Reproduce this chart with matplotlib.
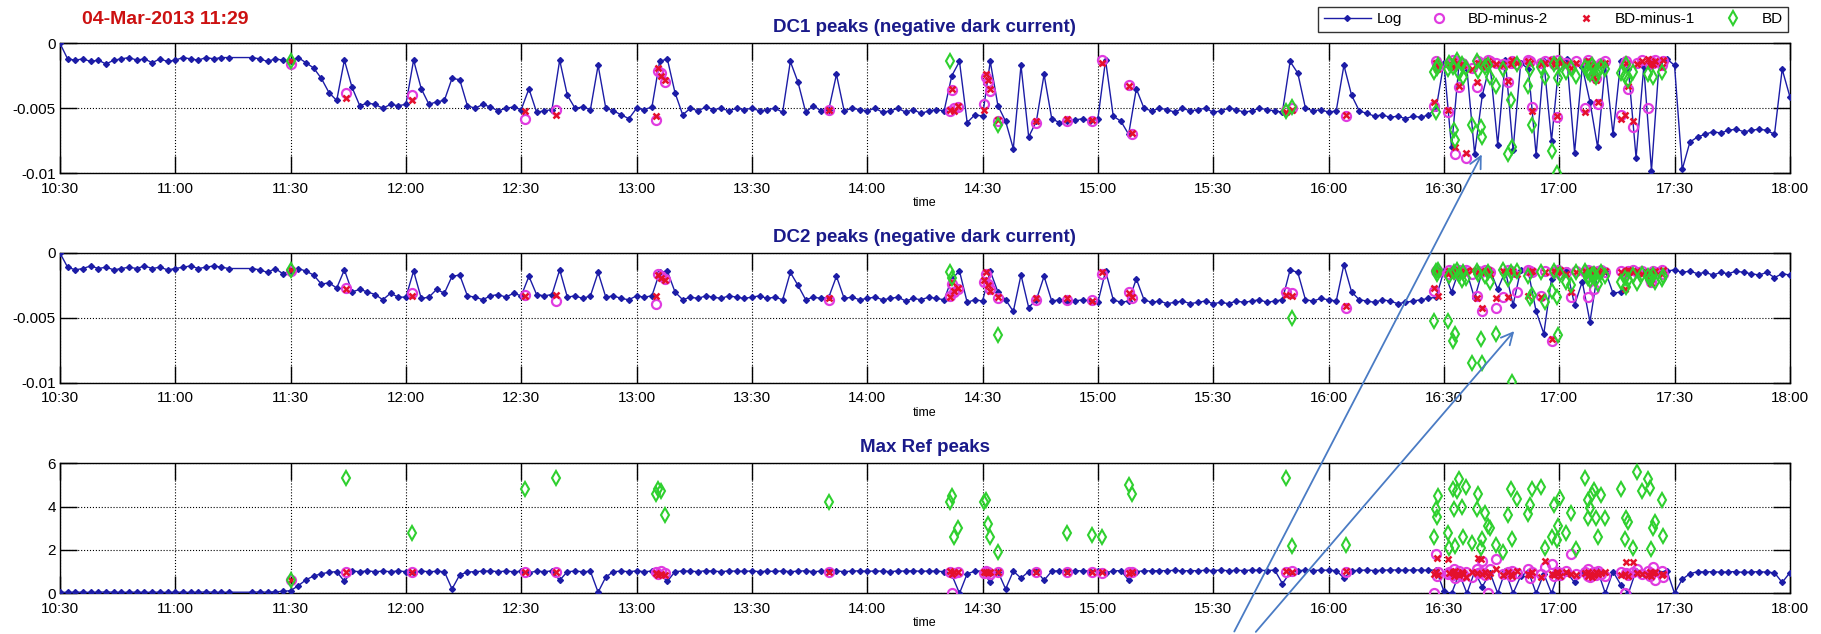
import numpy as np
import matplotlib.pyplot as plt
from matplotlib.patches import FancyArrowPatch
from matplotlib.ticker import FuncFormatter

plt.rcParams['font.family'] = ['Liberation Sans', 'DejaVu Sans']

# ---- log, sampled every 2 minutes from 10:30 (None = no sample) ----
log_step = 2  # minutes
# DC1 and DC2 in units of 1e-4
dc1_log = [0,
           -12, -13, -12, -14, -13, -16, -13, -12, -11, -13, -12, -15, -12, -14,
           -13, -11, -12, -13, -11, -12, -11, -11,
           None, None,
           -11, -12, -14, -12, -13,
           -14, -11, -15, -19, -27, -38, -44, -13, -34, -48,
           -46, -47, -50, -47, -48, -47, -13, -35, -47, -45,
           -44, -27, -28, -48, -50, -47, -49, -52, -50, -49,
           -51, -35, -53, -52, -51, -13, -40, -50, -49, -51,
           -17, -50, -52, -55, -58, -50, -51, -49, -14, -12,
           -38, -55, -50, -52, -49, -51, -50, -52, -50, -51,
           -50, -52, -51, -50, -53, -14, -30, -53, -48, -52,
           -51, -24, -52, -50, -51, -52, -50, -53, -52, -50,
           -53, -51, -54, -52, -51, -52, -25, -14, -61, -55,
           -56, -14, -48, -60, -81, -17, -72, -60, -24, -58,
           -61, -60, -59, -58, -60, -58, -13, -56, -60, -70,
           -35, -50, -52, -50, -51, -53, -50, -52, -51, -50,
           -53, -52, -50, -51, -53, -52, -50, -51, -52, -53,
           -14, -23, -50, -52, -51, -53, -52, -17, -40, -52,
           -54, -56, -55, -57, -56, -58, -56, -57, -55, -50,
           -15, -80, -14, -20, -85, -40, -16, -78, -13, -82,
           -15, -20, -86, -14, -75, -14, -12, -84, -18, -45,
           -80, -16, -70, -14, -20, -88, -18, -98, -15, -12,
           -17, -97, -76, -72, -70, -68, -69, -67, -66, -68,
           -67, -66, -67, -70, -20, -41]
dc2_log = [0,
           -11, -13, -12, -10, -12, -11, -13, -12, -11, -12, -10, -12, -11, -13,
           -12, -11, -10, -12, -11, -10, -11, -12,
           None, None,
           -12, -13, -15, -12, -16,
           -14, -12, -14, -17, -24, -23, -27, -13, -30, -28,
           -30, -32, -36, -31, -34, -34, -14, -35, -34, -28,
           -31, -18, -17, -33, -34, -36, -33, -32, -34, -31,
           -33, -18, -32, -33, -32, -13, -34, -33, -35, -33,
           -15, -34, -33, -35, -36, -33, -34, -33, -15, -14,
           -30, -36, -34, -35, -33, -34, -35, -33, -34, -35,
           -34, -33, -35, -34, -36, -15, -25, -36, -34, -35,
           -34, -18, -35, -34, -36, -35, -34, -36, -35, -34,
           -37, -35, -36, -34, -35, -36, -20, -14, -38, -36,
           -37, -14, -30, -36, -45, -17, -42, -36, -18, -37,
           -36, -38, -37, -36, -37, -38, -14, -36, -38, -37,
           -20, -36, -38, -37, -39, -38, -37, -39, -38, -37,
           -39, -38, -39, -37, -38, -37, -36, -38, -37, -36,
           -13, -15, -36, -37, -35, -36, -37, -9, -30, -36,
           -37, -38, -36, -37, -39, -38, -37, -36, -35, -34,
           -14, -30, -13, -15, -35, -14, -13, -28, -14, -40,
           -13, -15, -45, -62, -20, -14, -13, -40, -22, -53,
           -15, -14, -31, -30, -14, -13, -15, -14, -13, -14,
           -13, -15, -14, -16, -15, -17, -15, -16, -14, -15,
           -16, -17, -15, -19, -16, -17]
ref_log = [0.05, 0.04, 0.05, 0.05, 0.04, 0.05, 0.06, 0.05, 0.04, 0.05, 0.05, 0.04, 0.05, 0.05, 0.04,
           0.05, 0.05, 0.04, 0.05, 0.06, 0.05, 0.04, 0.05,
           None, None,
           0.05, 0.06, 0.05, 0.07, 0.09,
           0.12, 0.35, 0.62, 0.8, 0.9, 0.97, 1.0, 0.55, 1.02, 1.0,
           1.03, 1.0, 1.02, 1.0, 1.03, 1.0, 0.95, 1.02, 1.0, 1.01,
           1.0, 0.2, 0.85, 0.98, 1.0, 1.02, 1.03, 1.0, 1.02, 1.0,
           1.01, 0.95, 1.02, 1.0, 1.03, 0.6, 1.0, 1.02, 1.0, 1.01,
           0.05, 0.75, 1.0, 1.02, 1.0, 1.03, 1.0, 1.02, 0.9, 0.55,
           1.0, 1.03, 1.02, 1.0, 1.04, 1.02, 1.0, 1.03, 1.02, 1.01,
           1.03, 1.0, 1.02, 1.01, 1.03, 1.0, 1.02, 1.04, 1.0, 1.02,
           1.01, 1.03, 1.0, 1.02, 1.04, 1.01, 1.03, 1.02, 1.0, 1.03,
           1.02, 1.04, 1.01, 1.03, 1.02, 1.0, 0.85, 0.0, 0.9, 1.02,
           1.03, 0.5, 1.0, 0.2, 1.02, 0.7, 1.0, 1.03, 0.6, 1.02,
           1.04, 1.02, 1.05, 1.03, 1.04, 1.02, 0.95, 1.03, 1.05, 0.6,
           1.0, 1.04, 1.03, 1.05, 1.04, 1.06, 1.03, 1.05, 1.04, 1.06,
           1.05, 1.07, 1.04, 1.06, 1.05, 1.07, 1.06, 1.05, 1.07, 0.45,
           0.95, 1.05, 1.06, 1.05, 1.07, 1.06, 1.05, 0.7, 1.04, 1.06,
           1.07, 1.05, 1.06, 1.08, 1.07, 1.06, 1.08, 1.07, 1.06, 1.08,
           0.1, 0.0, 0.9, 0.0, 1.0, 0.3, 0.95, 0.0, 1.05, 0.0,
           0.8, 1.0, 0.0, 0.9, 0.0, 1.05, 0.95, 0.5, 1.0, 0.9,
           1.05, 0.0, 1.0, 0.4, 0.0, 1.05, 0.9, 1.0, 0.95, 1.05,
           0.0, 0.65, 0.9, 1.0, 0.98, 1.0, 0.97, 0.99, 1.0, 0.96,
           0.98, 1.0, 0.97, 0.95, 0.5, 0.95]

# ---- breakdown events: minutes after 10:30 ----
N = None
ev_t = [60, 74.5, 91.5, 121, 129, 155, 155.7, 156.3, 157.5, 200,
        231.5, 232, 232.5, 233.5, 240.5, 241, 241.5, 242, 244, 254,
        262, 268.5, 271, 278, 279, 319, 320.5, 334.5,
        357.5, 358.0, 358.3, 358.6, 361.0, 361.3, 362.4, 362.6, 363.0, 363.4,
        364.0, 364.6, 365.0, 365.7, 367.3, 368.6, 368.8, 369.6, 370.0, 370.6,
        371.6, 372.0, 373.5, 375.3, 376.8, 377.5, 377.8, 378.9, 382.0, 382.5,
        383.0, 385.3, 386.3, 388.0, 388.6, 389.4, 389.7, 390.2, 391.8, 393.0,
        394.3, 396.6, 397.4, 397.6, 398.0, 398.5, 399.0, 399.5, 400.0, 401.0,
        401.8, 406.0, 407.2, 407.5, 408.0, 409.3, 410.3, 411.6, 413.2, 413.7,
        413.9, 414.4, 415.0, 416.8, 417.0]

dc1_m2 = [-16, -38, -40, -58, -51, -59, -21, -23, -30, -51,
          -52, -36, -50, -49, -47, -26, -30, -37, -60, -61,
          -60, -60, -13, -32, -70, -51, -50, -56,
          -48, -14, -16, -18, -53, -15, -13, -17, -85, -14,
          -34, -15, -16, -88, -19, -34, -14, -15, -16, -17,
          -13, -14, -15, -16, -30, -15, -14, -16, -13, -14,
          -49, -15, -14, -14, -16, -57, -13, -16, -15, -18,
          -14, -50, -15, -13, -16, -17, -25, -27, -47, -15,
          -14, -55, -16, -14, -35, -64, -15, -13, -50, -16,
          -14, -15, -13, -17, -14]
dc1_m1 = [-14, -42, -44, -52, -55, -56, -19, -25, -28, -51,
          -51, -35, -52, -48, -51, -24, -28, -35, -59, -60,
          -58, -59, -15, -33, -69, -53, -51, -55,
          -45, -15, -20, -17, -51, -16, -14, -18, -80, -15,
          -33, -16, -17, -84, -20, -30, -15, -16, -15, -18,
          -14, -15, -16, -17, -29, -16, -13, -15, -14, -15,
          -52, -16, -15, -13, -17, -56, -14, -15, -16, -19,
          -15, -53, -14, -14, -17, -18, -26, -28, -45, -16,
          -15, -58, -55, -15, -33, -60, -16, -14, -12, -17,
          -15, -16, -14, -18, -13]
dc1_bd = [-14, N, N, N, N, N, N, N, N, N,
          -14, N, N, N, N, N, N, N, -63, N,
          N, N, N, N, N, -52, -49, N,
          -22, -53, -19, -17, -20, -15, -18, -67, -74, -13,
          -23, -16, -26, -19, -63, -14, -21, -64, -72, -18,
          -17, -26, -33, -20, -85, -44, -80, -16, -33, -20,
          -63, -18, -26, -83, -16, -100, -27, -16, -22, -19,
          -25, -18, -22, -20, -24, -17, -19, -26, -21, -18,
          -20, -23, -25, -16, -28, -22, N, N, -24, N,
          N, -26, N, -22, N]
dc2_m2 = [-14, -27, -31, -32, -37, -39, -16, -18, -20, -36,
          -33, -24, -30, -28, -22, -16, -24, -28, -35, -36,
          -36, -36, -16, -30, -35, -30, -31, -42,
          -29, -14, -13, -15, -16, -13, -14, -15, -16, -14,
          -13, -15, -14, -13, -16, -33, -14, -15, -45, -13,
          -14, -15, -42, -34, -13, -14, -15, -30, -13, -14,
          -15, -33, -14, -68, -15, -14, -13, -16, -15, -34,
          -14, -15, -34, -13, -16, -14, -28, -15, -14, -13,
          -15, -14, -16, -15, -14, -13, -15, -14, -16, -20,
          -22, -14, -15, -13, -16]
dc2_m1 = [-13, -28, -33, -33, -32, -33, -17, -19, -21, -35,
          -34, -22, -29, -27, -21, -15, -25, -29, -34, -35,
          -35, -37, -15, -31, -34, -32, -33, -41,
          -27, -15, -14, -33, -16, -14, -15, -13, -16, -15,
          -14, -16, -15, -14, -13, -35, -15, -14, -42, -15,
          -13, -16, -35, -14, -34, -15, -14, -16, -33, -15,
          -14, -34, -15, -66, -14, -15, -14, -13, -16, -30,
          -15, -14, -16, -15, -14, -13, -15, -16, -14, -15,
          -14, -15, -28, -14, -13, -15, -14, -16, -15, -21,
          -23, -15, -14, -16, -13]
dc2_bd = [-13, N, N, N, N, N, N, N, N, N,
          -15, -19, N, N, N, N, N, N, -63, N,
          N, N, N, N, N, N, -50, N,
          -52, -14, -16, -13, -52, -18, -68, -15, -62, -13,
          -17, -21, -15, -19, -85, -14, -16, -66, -85, -18,
          -15, -22, -62, -13, -20, -15, -99, -14, -18, -35,
          -32, -15, -38, -29, -14, -34, -63, -16, -22, -25,
          -15, -14, -18, -19, -21, -17, -16, -20, -24, -15,
          -18, -22, -19, -26, -21, -17, -23, -16, -18, -20,
          -19, -17, -22, -20, -18]
ref_m2 = [0.6, 1.0, 1.0, 1.0, 1.0, 1.0, 0.9, 1.05, 0.95, 1.0,
          1.0, 0.0, 0.95, 1.0, 0.95, 1.05, 1.0, 0.9, 1.0, 1.0,
          1.0, 1.0, 0.95, 1.0, 1.0, 1.0, 1.05, 1.0,
          0.0, 1.8, 0.8, 1.0, 0.9, 1.0, 0.85, 1.1, 0.7, 0.95,
          1.05, 0.8, 0.9, 1.0, 0.75, 1.1, 0.95, 1.0, 1.5, 0.85,
          0.0, 1.1, 1.6, 0.9, 1.0, 0.8, 1.05, 0.95, 1.1, 0.7,
          1.0, 0.9, 1.2, 1.35, 0.8, 0.95, 1.0, 0.85, 1.05, 1.8,
          0.9, 1.0, 0.8, 1.1, 0.75, 0.95, 1.0, 0.85, 1.05, 0.9,
          0.8, 1.0, 0.0, 0.95, 0.85, 1.0, 1.1, 0.9, 1.05, 0.8,
          0.95, 1.2, 0.6, 1.05, 0.75]
ref_m1 = [0.6, 1.0, 1.0, 1.0, 1.0, 0.95, 0.85, 0.9, 0.85, 1.0,
          1.05, 0.9, 1.0, 1.0, 1.0, 1.0, 0.95, 1.0, 1.0, 1.0,
          1.0, 1.0, 1.0, 0.95, 1.0, 1.05, 1.0, 1.05,
          0.9, 1.0, 1.65, 0.85, 1.6, 0.95, 1.0, 0.8, 1.05, 0.9,
          0.85, 1.0, 0.9, 0.75, 1.0, 0.95, 1.65, 1.6, 0.9, 1.0,
          0.8, 0.95, 1.1, 0.85, 1.0, 0.9, 0.8, 1.05, 0.9, 0.85,
          1.0, 0.75, 1.5, 0.9, 0.85, 1.0, 0.95, 0.8, 1.0, 0.9,
          0.85, 0.95, 0.8, 1.0, 0.9, 0.75, 0.85, 1.0, 0.9, 0.95,
          1.0, 0.85, 0.9, 1.45, 0.8, 1.45, 0.95, 0.9, 0.85, 1.0,
          0.8, 0.95, 1.0, 0.85, 0.9]
ref_bd = [0.6, 5.3, 2.8, 4.8, 5.3, 4.6, 4.8, 4.7, 3.6, 4.2,
          4.2, 4.5, 2.6, 3.0, 4.2, 4.3, 3.2, 2.6, 1.9, N,
          2.8, 2.7, 2.6, 5.0, 4.6, 5.3, 2.2, 2.25,
          2.6, 3.9, 3.5, 4.5, 2.8, 2.1, 4.8, 3.9, 2.2, 4.7,
          5.25, 4.0, 2.6, 4.9, 2.3, 3.9, 4.6, 2.1, 2.5, 3.7,
          3.1, 3.0, 2.25, 1.9, 3.6, 4.8, 2.5, 4.35, 3.65, 4.05,
          4.8, 4.9, 2.1, 2.6, 4.05, 2.45, 3.1, 4.4, 2.8, 3.7,
          2.05, 5.3, 4.3, 3.45, 3.95, 4.6, 4.75, 3.45, 2.6, 4.55,
          3.45, 4.8, 2.5, 3.45, 3.3, 2.1, 5.6, 4.7, 5.25, 4.85,
          2.05, 3.0, 3.3, 4.3, 2.65]

titles = ['DC1 peaks (negative dark current)', 'DC2 peaks (negative dark current)', 'Max Ref peaks']
tick_minutes = list(range(0, 451, 30))


def arr(values, scale=1.0):
    return np.array([np.nan if v is None else v * scale for v in values], dtype=float)


BLUE = '#1c1ca6'
MAG = '#e03ce0'
RED = '#e4102c'
GREEN = '#2fd02f'

fig = plt.figure(figsize=(18.21, 6.34), dpi=100)
lefts = 0.0329
width = 0.950
bottoms = [0.7266, 0.3959, 0.0642]
height = 0.2052

panels = [
    (dc1_log, dc1_m2, dc1_m1, dc1_bd, 1e-4),
    (dc2_log, dc2_m2, dc2_m1, dc2_bd, 1e-4),
    (ref_log, ref_m2, ref_m1, ref_bd, 1.0),
]

t_ev = np.array(ev_t, dtype=float)
for k, (log, m2, m1, bd, sc) in enumerate(panels):
    ax = fig.add_axes([lefts, bottoms[k], width, height])
    t_log = np.arange(len(log)) * log_step
    v = arr(log, sc)
    ok = ~np.isnan(v)
    ax.plot(t_log[ok], v[ok], '-', color=BLUE, lw=1.0, marker='D', ms=3.0, zorder=3)
    ax.plot(t_ev, arr(m2, sc), 'o', mfc='none', mec=MAG, ms=6.5, mew=1.6, zorder=4)
    ax.plot(t_ev, arr(m1, sc), 'x', color=RED, ms=4.5, mew=1.8, zorder=5)
    ax.plot(t_ev, arr(bd, sc), 'd', mfc='none', mec=GREEN, ms=7, mew=1.5, zorder=6)

    ax.set_xlim(0, 450)
    ax.set_xticks(tick_minutes)
    ax.xaxis.set_major_formatter(FuncFormatter(
        lambda m, p: '%d:%02d' % ((630 + int(round(m))) // 60, (630 + int(round(m))) % 60)))
    if k < 2:
        ax.set_ylim(-0.01, 0)
        ax.set_yticks([-0.01, -0.005, 0])
        ax.set_yticklabels(['-0.01', '-0.005', '0'])
    else:
        ax.set_ylim(0, 6)
        ax.set_yticks([0, 2, 4, 6])
        ax.set_yticklabels(['0', '2', '4', '6'])
    ax.grid(True, ls=':', color='black', lw=0.8)
    ax.tick_params(direction='in', length=12, width=1, top=True, right=True,
                   labelsize=11, colors='black')
    ax.tick_params(axis='x', pad=6)
    ax.tick_params(axis='y', pad=3)
    for s in ax.spines.values():
        s.set_linewidth(1.0)
    ax.set_title(titles[k], color='#1a1a8a', fontsize=13.5, fontweight='bold', pad=8)
    ax.set_xlabel('time', fontsize=9, labelpad=1)

fig.text(165 / 1821, 1 - 19 / 634, '04-Mar-2013 11:29', color='#cc1111', fontsize=14,
         fontweight='bold', ha='center', va='center')

# legend in the top right corner
handles = [
    plt.Line2D([], [], color=BLUE, lw=1.0, marker='D', ms=3.0),
    plt.Line2D([], [], ls='none', marker='o', mfc='none', mec=MAG, ms=6.5, mew=1.6),
    plt.Line2D([], [], ls='none', marker='x', color=RED, ms=4.5, mew=1.8),
    plt.Line2D([], [], ls='none', marker='d', mfc='none', mec=GREEN, ms=7, mew=1.5),
]
leg = fig.legend(handles, ['Log', 'BD-minus-2', 'BD-minus-1', 'BD'], ncol=4,
                 loc='upper right', bbox_to_anchor=(1788 / 1821, 1 - 7 / 634),
                 fontsize=11, frameon=True, fancybox=False, edgecolor='black',
                 handlelength=3.1, handletextpad=0.35, columnspacing=0.9,
                 borderpad=0.35, borderaxespad=0)
leg.get_frame().set_linewidth(1.0)

# annotation arrows drawn over the figure
for x0, x1, y1 in [(1233, 1483, 152), (1254, 1516, 329)]:
    arr_patch = FancyArrowPatch((x0 / 1821, 0.0), (x1 / 1821, 1 - y1 / 634),
                                transform=fig.transFigure, arrowstyle='->,head_length=0.7,head_width=0.35',
                                mutation_scale=12, color='#4a7bc4', lw=1.3, zorder=20)
    fig.add_artist(arr_patch)

fig.savefig('out.png', dpi=100)
